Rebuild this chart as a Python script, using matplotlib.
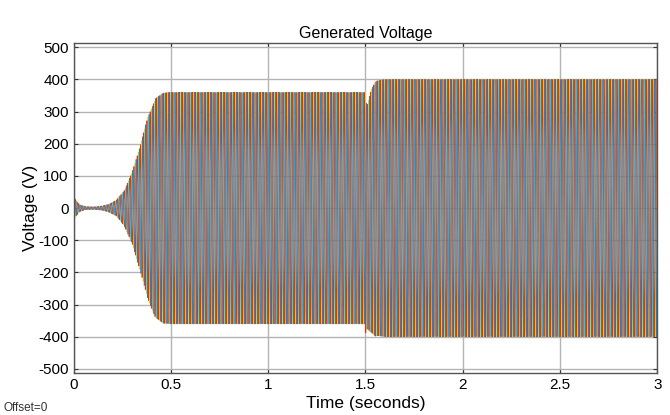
import numpy as np
import matplotlib
matplotlib.use('Agg')
import matplotlib.pyplot as plt

plt.rcParams['font.family'] = ['Liberation Sans', 'DejaVu Sans']
plt.rcParams['axes.unicode_minus'] = False

# generator output: envelope of the phase amplitude (V) vs time (s)
env_t = [0, 0.01, 0.03, 0.06, 0.1, 0.14, 0.18, 0.22, 0.26, 0.3, 0.34, 0.38,
         0.42, 0.46, 0.5, 1.5, 1.51, 1.525, 1.55, 1.6, 3.0]
env_amp = [40, 26, 11, 5, 4, 6, 12, 25, 55, 110, 190, 280,
           340, 358, 360, 360, 348, 372, 395, 400, 400]
# short dc offset during the load step at 1.5 s
off_t = [0, 1.499, 1.5, 1.51, 1.53, 1.56, 3.0]
off_v = [0, 0, -30, -26, -10, 0, 0]
freq = 60.0  # Hz
phase_deg = [120, -120, 0]
colors = ['#ffc800', '#e8301a', '#1289d6']

t = np.linspace(0, 3, 60000)
amp = np.interp(t, env_t, env_amp)
off = np.interp(t, off_t, off_v)

fig = plt.figure(figsize=(6.7, 4.15), dpi=100)
ax = fig.add_axes([0.110, 0.101, 0.871, 0.795])

for ph, c in zip(phase_deg, colors):
    v = amp * np.sin(2 * np.pi * freq * t + np.radians(ph)) + off
    ax.plot(t, v, color=c, lw=0.55)

ax.set_xlim(0, 3)
ax.set_ylim(-513, 513)
ax.set_xticks([0, 0.5, 1, 1.5, 2, 2.5, 3])
ax.set_xticklabels(['0', '0.5', '1', '1.5', '2', '2.5', '3'])
ax.set_yticks(np.arange(-500, 501, 100))
ax.grid(True, color='#b4b4b4', lw=1.0)
ax.set_axisbelow(True)
ax.tick_params(direction='in', top=True, right=True, labelsize=11,
               length=3, color='#333333')
for s in ax.spines.values():
    s.set_color('#555555')
    s.set_linewidth(1.0)

ax.set_title('Generated Voltage', fontsize=11.5, pad=4)
ax.set_xlabel('Time (seconds)', fontsize=12.5, labelpad=3)
ax.set_ylabel('Voltage (V)', fontsize=12.5, labelpad=0)
fig.text(0.005, 0.01, 'Offset=0', fontsize=8.5, color='#333333')

fig.savefig('out.png', dpi=100)
